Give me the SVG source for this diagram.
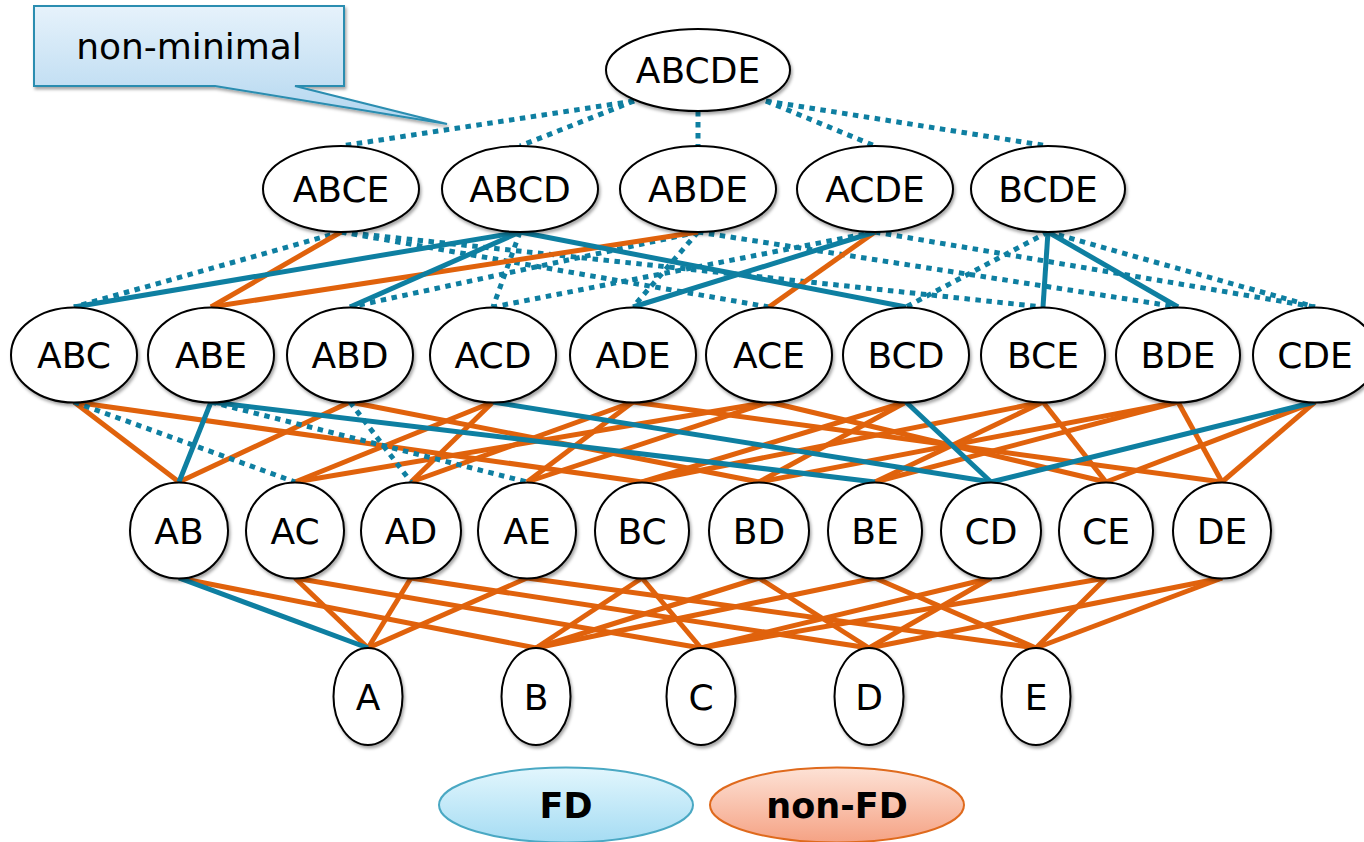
<svg xmlns="http://www.w3.org/2000/svg" width="1364" height="842" viewBox="0 0 1364 842">
  <defs>
    <filter id="shadow" x="-20%" y="-20%" width="140%" height="150%">
      <feDropShadow dx="1.5" dy="2.5" stdDeviation="1.6" flood-color="#000" flood-opacity="0.35"/>
    </filter>
    <linearGradient id="calloutFill" x1="0" y1="0" x2="0" y2="1">
      <stop offset="0" stop-color="#e6f2fb"/>
      <stop offset="1" stop-color="#b2d6ef"/>
    </linearGradient>
    <linearGradient id="fdFill" x1="0" y1="0" x2="0" y2="1">
      <stop offset="0" stop-color="#e2f6fd"/>
      <stop offset="1" stop-color="#a5dcf3"/>
    </linearGradient>
    <linearGradient id="nonfdFill" x1="0" y1="0" x2="0" y2="1">
      <stop offset="0" stop-color="#fde2d6"/>
      <stop offset="1" stop-color="#f5a284"/>
    </linearGradient>
  </defs>
  <style>
    .node ellipse { fill: #fff; stroke: #000; stroke-width: 2; filter: url(#shadow); }
    .node text { font-family: "DejaVu Sans", Verdana, sans-serif; font-size: 36px; fill: #000; text-anchor: middle; }
    .fd { stroke: #0e7fa1; stroke-width: 5; fill: none; }
    .nonfd { stroke: #e0620c; stroke-width: 5; fill: none; }
    .nonmin { stroke: #0e7fa1; stroke-width: 5; stroke-dasharray: 5.5 5.5; fill: none; }
    .legend text { font-family: "DejaVu Sans", Verdana, sans-serif; font-size: 35px; font-weight: bold; fill: #000; text-anchor: middle; }
  </style>

  <!-- lattice edges -->
  <g id="connectors">
    <!-- ABCDE to 4-sets -->
    <g class="nonmin">
      <path d="M634,101 L341,146"/>
      <path d="M634,101 L520,146"/>
      <path d="M698,111 L698,146"/>
      <path d="M766,101 L875,146"/>
      <path d="M766,101 L1048,146"/>
    </g>
    <!-- 4-sets to 3-sets -->
    <g class="nonmin">
      <path d="M341,232 L74,307"/>
      <path d="M341,232 L769,307"/>
      <path d="M341,232 L1043,307"/>
      <path d="M520,232 L493,307"/>
      <path d="M698,232 L350,307"/>
      <path d="M698,232 L633,307"/>
      <path d="M698,232 L1178,307"/>
      <path d="M875,232 L493,307"/>
      <path d="M875,232 L1315,307"/>
      <path d="M1048,232 L906,307"/>
      <path d="M1048,232 L1315,307"/>
    </g>
    <g class="nonfd">
      <path d="M341,232 L211,307"/>
      <path d="M698,232 L211,307"/>
      <path d="M875,232 L769,307"/>
    </g>
    <g class="fd">
      <path d="M520,232 L74,307"/>
      <path d="M520,232 L350,307"/>
      <path d="M520,232 L906,307"/>
      <path d="M875,232 L633,307"/>
      <path d="M1048,232 L1043,307"/>
      <path d="M1048,232 L1178,307"/>
    </g>
    <!-- 3-sets to 2-sets -->
    <g class="nonfd">
      <path d="M74,402 L179,482"/>
      <path d="M74,402 L642,482"/>
      <path d="M350,402 L179,482"/>
      <path d="M350,402 L759,482"/>
      <path d="M493,402 L295,482"/>
      <path d="M493,402 L411,482"/>
      <path d="M633,402 L411,482"/>
      <path d="M633,402 L527,482"/>
      <path d="M633,402 L1222,482"/>
      <path d="M769,402 L295,482"/>
      <path d="M769,402 L527,482"/>
      <path d="M769,402 L1106,482"/>
      <path d="M906,402 L642,482"/>
      <path d="M906,402 L759,482"/>
      <path d="M1043,402 L642,482"/>
      <path d="M1043,402 L875,482"/>
      <path d="M1043,402 L1106,482"/>
      <path d="M1178,402 L759,482"/>
      <path d="M1178,402 L875,482"/>
      <path d="M1178,402 L1222,482"/>
      <path d="M1315,402 L1106,482"/>
      <path d="M1315,402 L1222,482"/>
    </g>
    <g class="nonmin">
      <path d="M74,402 L295,482"/>
      <path d="M211,402 L527,482"/>
      <path d="M350,402 L411,482"/>
    </g>
    <g class="fd">
      <path d="M211,402 L179,482"/>
      <path d="M211,402 L875,482"/>
      <path d="M493,402 L991,482"/>
      <path d="M906,402 L991,482"/>
      <path d="M1315,402 L991,482"/>
    </g>
    <!-- 2-sets to single attributes -->
    <g class="nonfd">
      <path d="M179,578 L536,648"/>
      <path d="M295,578 L368,648"/>
      <path d="M295,578 L701,648"/>
      <path d="M411,578 L368,648"/>
      <path d="M411,578 L869,648"/>
      <path d="M527,578 L368,648"/>
      <path d="M527,578 L1036,648"/>
      <path d="M642,578 L536,648"/>
      <path d="M642,578 L701,648"/>
      <path d="M759,578 L536,648"/>
      <path d="M759,578 L869,648"/>
      <path d="M875,578 L536,648"/>
      <path d="M875,578 L1036,648"/>
      <path d="M991,578 L701,648"/>
      <path d="M991,578 L869,648"/>
      <path d="M1106,578 L701,648"/>
      <path d="M1106,578 L1036,648"/>
      <path d="M1222,578 L869,648"/>
      <path d="M1222,578 L1036,648"/>
    </g>
    <g class="fd">
      <path d="M179,578 L368,648"/>
    </g>
  </g>

  <!-- callout -->
  <g id="callout-nonminimal">
    <path d="M34,6 H344 V86 H295 L447,124 L215,86 H34 Z" fill="url(#calloutFill)" stroke="#2a8db0" stroke-width="2" filter="url(#shadow)"/>
    <text x="189" y="59" font-family="DejaVu Sans, Verdana, sans-serif" font-size="36" text-anchor="middle" fill="#000">non-minimal</text>
  </g>

  <!-- level 5 -->
  <g id="n-ABCDE" class="node"><ellipse cx="698" cy="70" rx="92" ry="41"/><text x="698" y="83">ABCDE</text></g>

  <!-- level 4 -->
  <g id="n-ABCE" class="node"><ellipse cx="341" cy="189" rx="78" ry="43"/><text x="341" y="202">ABCE</text></g>
  <g id="n-ABCD" class="node"><ellipse cx="520" cy="189" rx="78" ry="43"/><text x="520" y="202">ABCD</text></g>
  <g id="n-ABDE" class="node"><ellipse cx="698" cy="189" rx="78" ry="43"/><text x="698" y="202">ABDE</text></g>
  <g id="n-ACDE" class="node"><ellipse cx="875" cy="189" rx="78" ry="43"/><text x="875" y="202">ACDE</text></g>
  <g id="n-BCDE" class="node"><ellipse cx="1048" cy="189" rx="77" ry="43"/><text x="1048" y="202">BCDE</text></g>

  <!-- level 3 -->
  <g id="n-ABC" class="node"><ellipse cx="74" cy="355" rx="63" ry="47.5"/><text x="74" y="368">ABC</text></g>
  <g id="n-ABE" class="node"><ellipse cx="211" cy="355" rx="63" ry="47.5"/><text x="211" y="368">ABE</text></g>
  <g id="n-ABD" class="node"><ellipse cx="350" cy="355" rx="63" ry="47.5"/><text x="350" y="368">ABD</text></g>
  <g id="n-ACD" class="node"><ellipse cx="493" cy="355" rx="63" ry="47.5"/><text x="493" y="368">ACD</text></g>
  <g id="n-ADE" class="node"><ellipse cx="633" cy="355" rx="63" ry="47.5"/><text x="633" y="368">ADE</text></g>
  <g id="n-ACE" class="node"><ellipse cx="769" cy="355" rx="63" ry="47.5"/><text x="769" y="368">ACE</text></g>
  <g id="n-BCD" class="node"><ellipse cx="906" cy="355" rx="63" ry="47.5"/><text x="906" y="368">BCD</text></g>
  <g id="n-BCE" class="node"><ellipse cx="1043" cy="355" rx="62" ry="47.5"/><text x="1043" y="368">BCE</text></g>
  <g id="n-BDE" class="node"><ellipse cx="1178" cy="355" rx="62" ry="47.5"/><text x="1178" y="368">BDE</text></g>
  <g id="n-CDE" class="node"><ellipse cx="1315" cy="355" rx="62" ry="47.5"/><text x="1315" y="368">CDE</text></g>

  <!-- level 2 -->
  <g id="n-AB" class="node"><ellipse cx="179" cy="530.5" rx="49" ry="48"/><text x="179" y="543.5">AB</text></g>
  <g id="n-AC" class="node"><ellipse cx="295" cy="530.5" rx="49" ry="48"/><text x="295" y="543.5">AC</text></g>
  <g id="n-AD" class="node"><ellipse cx="411" cy="530.5" rx="50" ry="48"/><text x="411" y="543.5">AD</text></g>
  <g id="n-AE" class="node"><ellipse cx="527" cy="530.5" rx="49" ry="48"/><text x="527" y="543.5">AE</text></g>
  <g id="n-BC" class="node"><ellipse cx="642" cy="530.5" rx="47" ry="48"/><text x="642" y="543.5">BC</text></g>
  <g id="n-BD" class="node"><ellipse cx="759" cy="530.5" rx="50" ry="48"/><text x="759" y="543.5">BD</text></g>
  <g id="n-BE" class="node"><ellipse cx="875" cy="530.5" rx="47" ry="48"/><text x="875" y="543.5">BE</text></g>
  <g id="n-CD" class="node"><ellipse cx="991" cy="530.5" rx="50" ry="48"/><text x="991" y="543.5">CD</text></g>
  <g id="n-CE" class="node"><ellipse cx="1106" cy="530.5" rx="47" ry="48"/><text x="1106" y="543.5">CE</text></g>
  <g id="n-DE" class="node"><ellipse cx="1222" cy="530.5" rx="49" ry="48"/><text x="1222" y="543.5">DE</text></g>

  <!-- level 1 -->
  <g id="n-A" class="node"><ellipse cx="368" cy="696.5" rx="34.5" ry="48.5"/><text x="368" y="709.5">A</text></g>
  <g id="n-B" class="node"><ellipse cx="536" cy="696.5" rx="34.5" ry="48.5"/><text x="536" y="709.5">B</text></g>
  <g id="n-C" class="node"><ellipse cx="701" cy="696.5" rx="34.5" ry="48.5"/><text x="701" y="709.5">C</text></g>
  <g id="n-D" class="node"><ellipse cx="869" cy="696.5" rx="34.5" ry="48.5"/><text x="869" y="709.5">D</text></g>
  <g id="n-E" class="node"><ellipse cx="1036" cy="696.5" rx="34.5" ry="48.5"/><text x="1036" y="709.5">E</text></g>

  <!-- legend -->
  <g id="legend-fd" class="legend">
    <ellipse cx="566" cy="805" rx="127" ry="37.5" fill="url(#fdFill)" stroke="#4aa8c3" stroke-width="2"/>
    <text x="566" y="818">FD</text>
  </g>
  <g id="legend-nonfd" class="legend">
    <ellipse cx="837" cy="805" rx="127" ry="37.5" fill="url(#nonfdFill)" stroke="#df6a1d" stroke-width="2"/>
    <text x="837" y="818">non-FD</text>
  </g>
</svg>
